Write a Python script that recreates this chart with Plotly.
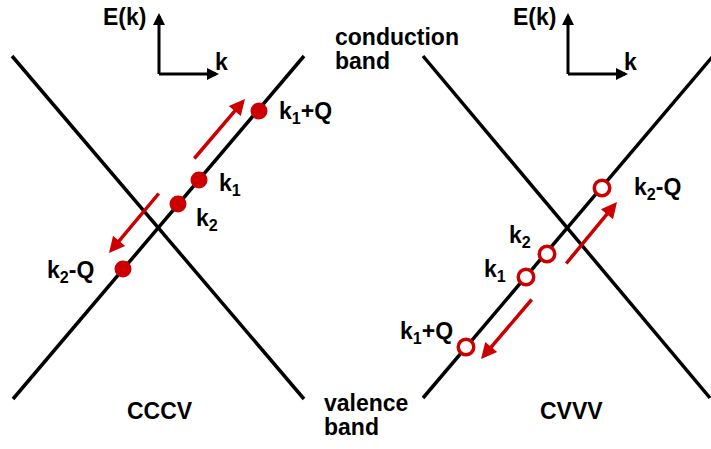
import plotly.graph_objects as go

# ---- data (pixel-space diagram coordinates, y downward) ----
band_lines_x = [[12, 304], [13, 304], [423, 710], [423, 713]]
band_lines_y = [[56, 399], [399, 56], [56, 398], [398, 56]]

electron_x = [259, 199, 178, 123]
electron_y = [111, 180, 204, 269]
electron_labels = ["k<sub>1</sub>+Q", "k<sub>1</sub>", "k<sub>2</sub>", "k<sub>2</sub>-Q"]
electron_label_x = [277, 217, 194, 96]
electron_label_y = [112, 184, 219, 271]
electron_label_anchor = ["left", "left", "left", "right"]

hole_x = [602, 547, 526, 466]
hole_y = [188, 254, 277, 347]
hole_labels = ["k<sub>2</sub>-Q", "k<sub>2</sub>", "k<sub>1</sub>", "k<sub>1</sub>+Q"]
hole_label_x = [632, 533, 508, 455]
hole_label_y = [188, 236, 270, 332]
hole_label_anchor = ["left", "right", "right", "right"]

arrow_tail_x = [193, 160, 565, 533]
arrow_tail_y = [160, 192, 265, 298]
arrow_head_x = [245, 109, 617, 481]
arrow_head_y = [99, 253, 202, 359]

axis_origin_x = [159, 568]
axis_origin_y = [74, 74]
axis_len_up = 61
axis_len_right = 60
axis_e_label_x = [124, 534]
axis_k_label_x = [221, 630]

side_texts = ["conduction", "band", "valence", "band"]
side_text_x = [333, 333, 322, 322]
side_text_y = [37, 61, 403, 427]

panel_titles = ["CCCV", "CVVV"]
panel_title_x = [160, 571]
panel_title_y = [411, 411]

RED = "#cc0000"
FONT = dict(family="Liberation Sans, Arial, sans-serif", size=23, color="black", weight="bold")

fig = go.Figure()

for xs, ys in zip(band_lines_x, band_lines_y):
    fig.add_trace(go.Scatter(x=xs, y=ys, mode="lines",
                             line=dict(color="black", width=3.5),
                             hoverinfo="skip", showlegend=False))

fig.add_trace(go.Scatter(x=electron_x, y=electron_y, mode="markers",
                         marker=dict(size=17, color=RED, line=dict(width=0)),
                         showlegend=False, hoverinfo="skip"))
fig.add_trace(go.Scatter(x=hole_x, y=hole_y, mode="markers",
                         marker=dict(size=15.5, color="white", line=dict(width=3.5, color=RED)),
                         showlegend=False, hoverinfo="skip"))

ann = []
# red arrows
for tx, ty, hx, hy in zip(arrow_tail_x, arrow_tail_y, arrow_head_x, arrow_head_y):
    ann.append(dict(x=hx, y=hy, ax=tx, ay=ty, xref="x", yref="y", axref="x", ayref="y",
                    text="", showarrow=True, arrowhead=2, arrowsize=0.9, arrowwidth=3.5,
                    arrowcolor=RED, standoff=0, startstandoff=0))
# axis indicators
for ox, oy, ex, kx in zip(axis_origin_x, axis_origin_y, axis_e_label_x, axis_k_label_x):
    ann.append(dict(x=ox, y=oy - axis_len_up, ax=ox, ay=oy + 1.5, xref="x", yref="y",
                    axref="x", ayref="y", text="", showarrow=True, arrowhead=2,
                    arrowsize=0.8, arrowwidth=3, arrowcolor="black", standoff=0))
    ann.append(dict(x=ox + axis_len_right, y=oy, ax=ox - 1.5, ay=oy, xref="x", yref="y",
                    axref="x", ayref="y", text="", showarrow=True, arrowhead=2,
                    arrowsize=0.8, arrowwidth=3, arrowcolor="black", standoff=0))
    ann.append(dict(x=ex, y=17, xref="x", yref="y", text="E(k)", showarrow=False,
                    xanchor="center", yanchor="middle", font=FONT))
    ann.append(dict(x=kx, y=62, xref="x", yref="y", text="k", showarrow=False,
                    xanchor="center", yanchor="middle", font=FONT))

for t, x, y, a in zip(electron_labels, electron_label_x, electron_label_y, electron_label_anchor):
    ann.append(dict(x=x, y=y, xref="x", yref="y", text=t, showarrow=False,
                    xanchor=a, yanchor="middle", font=FONT))
for t, x, y, a in zip(hole_labels, hole_label_x, hole_label_y, hole_label_anchor):
    ann.append(dict(x=x, y=y, xref="x", yref="y", text=t, showarrow=False,
                    xanchor=a, yanchor="middle", font=FONT))
for t, x, y in zip(side_texts, side_text_x, side_text_y):
    ann.append(dict(x=x, y=y, xref="x", yref="y", text=t, showarrow=False,
                    xanchor="left", yanchor="middle", font=FONT))
for t, x, y in zip(panel_titles, panel_title_x, panel_title_y):
    ann.append(dict(x=x, y=y, xref="x", yref="y", text=t, showarrow=False,
                    xanchor="center", yanchor="middle", font=FONT))

fig.update_layout(
    width=711, height=449,
    margin=dict(l=0, r=0, t=0, b=0),
    paper_bgcolor="white", plot_bgcolor="white",
    xaxis=dict(range=[0, 711], visible=False, fixedrange=True),
    yaxis=dict(range=[449, 0], visible=False, fixedrange=True),
    annotations=ann,
    showlegend=False,
)

fig.write_html("out.html")
